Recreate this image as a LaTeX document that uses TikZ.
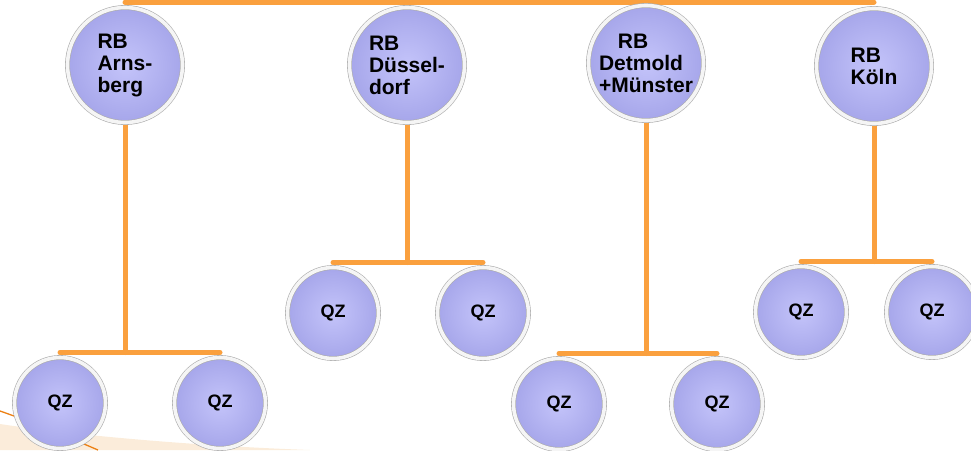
\documentclass[tikz,border=0pt]{standalone}
\usepackage{fontspec}
\setmainfont{Liberation Sans}
\usetikzlibrary{backgrounds}
\definecolor{ast}{RGB}{250,160,62}
\definecolor{lilahell}{RGB}{196,196,250}
\definecolor{lila}{RGB}{166,166,234}
\definecolor{sand}{RGB}{251,236,218}
\begin{document}
\begin{tikzpicture}[x=1pt,y=-1pt,
	kreis/.style={circle,inner sep=0pt,inner color=lilahell,outer color=lila,draw=gray!65,double=gray!8,double distance=3.6pt,line width=0.6pt},
	rb/.style={kreis,minimum size=115pt,align=left,font=\bfseries\fontsize{21}{22}\selectfont},
	qz/.style={kreis,minimum size=91pt,outer sep=5pt,font=\bfseries\fontsize{18}{19}\selectfont},
	link/.style={draw=ast,line width=5pt,line cap=round}]
	\useasboundingbox (0,0) rectangle (971,450);
	\fill[sand] (0,424) .. controls (80,436) and (200,446) .. (310,450) -- (0,450) -- cycle;
	\draw[orange!70!brown,line width=1.3pt] (0,411) .. controls (40,425) and (70,438) .. (98,450);

	\node[rb] (arn) at (125,65) {RB\\Arns-\\berg};
	\node[rb] (dus) at (407,65) {RB\\Düssel-\\dorf};
	\node[rb] (det) at (646,63) {\hspace*{0.9em}RB\\Detmold\\+Münster};
	\node[rb] (koe) at (874,66) {RB\\Köln};

	\node[qz] (qa1) at (60,403) {QZ};
	\node[qz] (qa2) at (220,403) {QZ};
	\node[qz] (qd1) at (333,313) {QZ};
	\node[qz] (qd2) at (483,313) {QZ};
	\node[qz] (qm1) at (559,404) {QZ};
	\node[qz] (qm2) at (717,404) {QZ};
	\node[qz] (qk1) at (801,312) {QZ};
	\node[qz] (qk2) at (932,312) {QZ};

	\coordinate (top) at (0,2);
	\begin{scope}[on background layer]
		\draw[link] (arn |- top) -- (koe |- top);
		\draw[link] (arn) -- (arn |- qa1.north);
		\draw[link] (qa1.north) -- (qa2.north);
		\draw[link] (dus) -- (dus |- qd1.north);
		\draw[link] (qd1.north) -- (qd2.north);
		\draw[link] (det) -- (det |- qm1.north);
		\draw[link] (qm1.north) -- (qm2.north);
		\draw[link] (koe) -- (koe |- qk1.north);
		\draw[link] (qk1.north) -- (qk2.north);
	\end{scope}
\end{tikzpicture}
\end{document}
